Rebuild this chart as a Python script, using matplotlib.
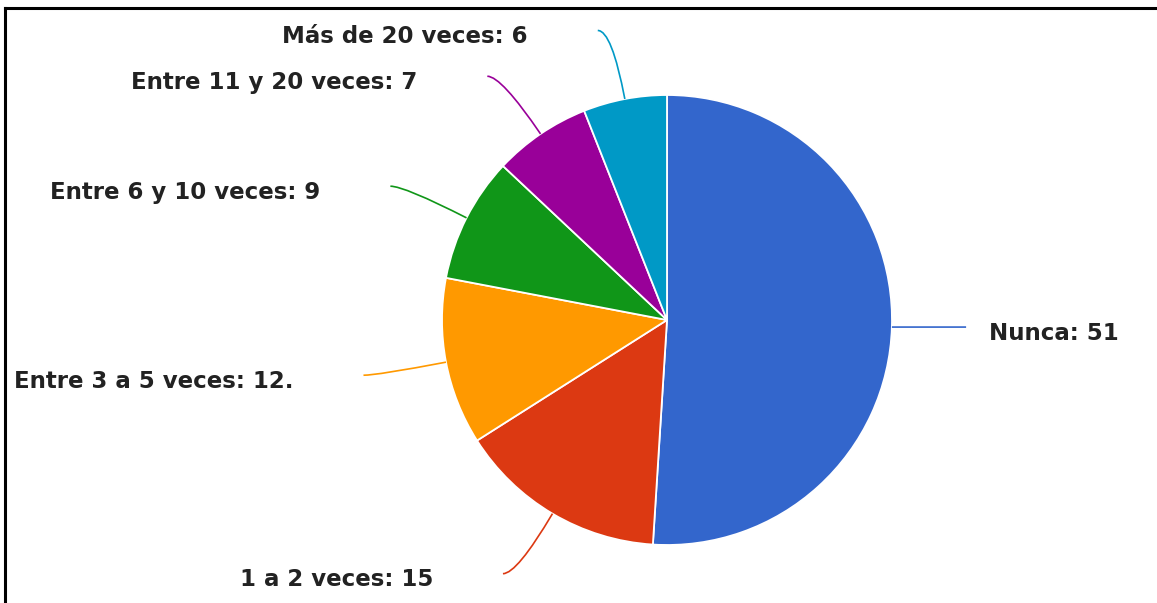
import numpy as np
import matplotlib
matplotlib.use("Agg")
import matplotlib.pyplot as plt
from matplotlib.path import Path
from matplotlib.patches import PathPatch

# Respuestas por categoría
categorias = ["Nunca", "1 a 2 veces", "Entre 3 a 5 veces", "Entre 6 y 10 veces",
              "Entre 11 y 20 veces", "Más de 20 veces"]
valores = [51, 15, 12, 9, 7, 6]
etiquetas = ["Nunca: 51", "1 a 2 veces: 15", "Entre 3 a 5 veces: 12.",
             "Entre 6 y 10 veces: 9", "Entre 11 y 20 veces: 7", "Más de 20 veces: 6"]
colores = ["#3366CC", "#DC3912", "#FF9900", "#109618", "#990099", "#0099C6"]

W, H = 1157, 603
fig = plt.figure(figsize=(W / 100, H / 100), dpi=100)
ax = fig.add_axes([0, 0, 1, 1])

# 1 unidad = radio del pastel (225 px), centro en (667, 320) px
R = 225.0
cx, cy = 667, 320

wedges, _ = ax.pie(valores, colors=colores, startangle=90, counterclock=False,
                   radius=1.0, center=(0, 0), frame=True,
                   wedgeprops=dict(edgecolor="white", linewidth=1.3))
ax.set_xlim(-cx / R, (W - cx) / R)
ax.set_ylim(-(H - cy) / R, cy / R)
ax.axis("off")

px = 1 / R
fuente = dict(fontsize=16.5, fontweight="bold", color="#222222")
for w, txt, col in zip(wedges, etiquetas, colores):
    ang = np.deg2rad((w.theta1 + w.theta2) / 2)
    d = np.array([np.cos(ang), np.sin(ang)])
    p0 = d * 1.0
    derecha = d[0] > 0.5
    if derecha:
        p2 = np.array([d[0] * 1.33, p0[1]])
        p1 = (p0 + p2) / 2
    else:
        p1 = d * 1.31
        p2 = p1 + np.array([-14 * px, 0])
    path = Path([p0, p1, p2], [Path.MOVETO, Path.CURVE3, Path.CURVE3])
    ax.add_patch(PathPatch(path, fill=False, edgecolor=col, lw=1.2))
    if derecha:
        ax.text(p2[0] + 23 * px, p2[1] - 6 * px, txt, ha="left", va="center", **fuente)
    else:
        ax.text(p2[0] - 70 * px, p2[1] - 6 * px, txt, ha="right", va="center", **fuente)

# Marco superior e izquierdo
fig.add_artist(plt.Line2D([5 / W, 1], [1 - 7.5 / H, 1 - 7.5 / H], color="black",
                          lw=2.2, transform=fig.transFigure))
fig.add_artist(plt.Line2D([5 / W, 5 / W], [0, 1 - 7.5 / H], color="black",
                          lw=2.2, transform=fig.transFigure))

fig.savefig("out.png", dpi=100, facecolor="white")
